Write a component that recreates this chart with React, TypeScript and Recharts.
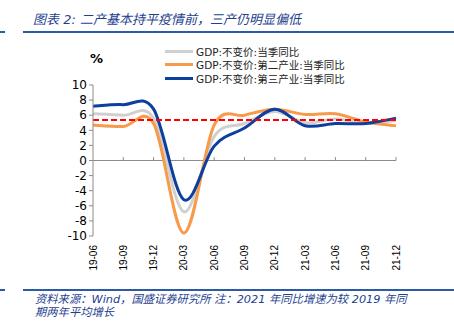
import { LineChart, Line, XAxis, YAxis, ReferenceLine } from 'recharts';

const categories = ['19-06', '19-09', '19-12', '20-03', '20-06', '20-09', '20-12', '21-03', '21-06', '21-09', '21-12'];
const gdpTotal = [6.2, 6.0, 5.6, -6.8, 3.2, 4.9, 6.5, 5.0, 5.5, 4.9, 5.3];
const gdpSecondary = [4.7, 4.5, 4.9, -9.6, 4.7, 6.0, 6.8, 6.1, 6.2, 5.1, 4.6];
const gdpTertiary = [7.2, 7.4, 6.8, -5.2, 1.9, 4.3, 6.8, 4.6, 4.9, 4.9, 5.6];
const preCovidLevel = 5.35;
const yTicks = [-10, -8, -6, -4, -2, 0, 2, 4, 6, 8, 10];

const series = [
  { key: 'total', name: 'GDP:不变价:当季同比', color: '#d0d0d0' },
  { key: 'secondary', name: 'GDP:不变价:第二产业:当季同比', color: '#f79a4a' },
  { key: 'tertiary', name: 'GDP:不变价:第三产业:当季同比', color: '#0d3f9e' },
];

const data = categories.map((c, i) => ({
  date: c,
  total: gdpTotal[i],
  secondary: gdpSecondary[i],
  tertiary: gdpTertiary[i],
}));

const navy = '#1f3f8f';
const cjk = '"DejaVu Sans", "Noto Sans CJK SC", sans-serif';

// Excel-style smoothed line (Catmull-Rom through every point)
const excelSmooth = (context: any) => {
  let pts: number[][] = [];
  return {
    areaStart() {},
    areaEnd() {},
    lineStart() {
      pts = [];
    },
    point(x: number, y: number) {
      pts.push([+x, +y]);
    },
    lineEnd() {
      const n = pts.length;
      if (!n) return;
      context.moveTo(pts[0][0], pts[0][1]);
      for (let i = 0; i < n - 1; i++) {
        const p0 = pts[Math.max(i - 1, 0)];
        const p1 = pts[i];
        const p2 = pts[i + 1];
        const p3 = pts[Math.min(i + 2, n - 1)];
        context.bezierCurveTo(
          p1[0] + (p2[0] - p0[0]) / 6,
          p1[1] + (p2[1] - p0[1]) / 6,
          p2[0] - (p3[0] - p1[0]) / 6,
          p2[1] - (p3[1] - p1[1]) / 6,
          p2[0],
          p2[1]
        );
      }
    },
  };
};

const XTick = ({ x, y, payload }: any) => (
  <text
    x={0}
    y={0}
    transform={`translate(${x},${y + 9}) rotate(-90)`}
    textAnchor="end"
    dy="0.35em"
    fontSize={10}
    fontFamily="'Liberation Sans', sans-serif"
    fill="#000"
  >
    {payload.value}
  </text>
);

export default function App() {
  return (
    <div style={{ position: 'absolute', left: 0, top: 0, width: 454, height: 324, background: '#fff', overflow: 'hidden' }}>
      <div
        style={{
          position: 'absolute',
          left: 33,
          top: 11,
          fontSize: 13,
          fontStyle: 'italic',
          color: navy,
          fontFamily: cjk,
          whiteSpace: 'nowrap',
          lineHeight: '18px',
        }}
      >
        图表 2:  二产基本持平疫情前，三产仍明显偏低
      </div>
      <div style={{ position: 'absolute', left: 0, top: 31, width: 5, height: 2, background: '#2a5aa8' }} />
      <div style={{ position: 'absolute', left: 23, top: 31, width: 431, height: 2, background: '#2a5aa8' }} />

      <div style={{ position: 'absolute', left: 90, top: 51, fontSize: 13, fontWeight: 'bold', fontFamily: cjk }}>%</div>

      <div style={{ position: 'absolute', left: 165, top: 45 }}>
        {series.map((s) => (
          <div key={s.key} style={{ display: 'flex', alignItems: 'center', height: 13.3 }}>
            <div style={{ width: 28, height: 3, background: s.color, marginRight: 3 }} />
            <span style={{ fontSize: 10.5, fontFamily: cjk, color: '#222', whiteSpace: 'nowrap' }}>{s.name}</span>
          </div>
        ))}
      </div>

      <div style={{ position: 'absolute', left: 0, top: 0 }}>
        <LineChart width={454} height={324} data={data} margin={{ top: 85, right: 58, bottom: 48, left: 53 }}>
          <XAxis
            dataKey="date"
            height={40}
            axisLine={false}
            tickLine={false}
            tickSize={0}
            tickMargin={0}
            interval={0}
            tick={<XTick />}
          />
          <YAxis
            width={40}
            domain={[-10, 10]}
            ticks={yTicks}
            interval={0}
            tickSize={4}
            tickMargin={2}
            axisLine={{ stroke: '#8c8c8c' }}
            tickLine={{ stroke: '#8c8c8c' }}
            tick={{ fontSize: 12, fill: '#000', fontFamily: "'DejaVu Sans', sans-serif" }}
          />
          <ReferenceLine y={0} stroke="#8c8c8c" />
          {categories.slice(1).map((c) => (
            <ReferenceLine
              key={c}
              segment={[
                { x: c, y: 0 },
                { x: c, y: 0.45 },
              ]}
              stroke="#8c8c8c"
            />
          ))}
          {series.map((s) => (
            <Line
              key={s.key}
              dataKey={s.key}
              name={s.name}
              type={excelSmooth as any}
              stroke={s.color}
              strokeWidth={3}
              dot={false}
              isAnimationActive={false}
            />
          ))}
          <ReferenceLine y={preCovidLevel} stroke="#ff0000" strokeWidth={2} strokeDasharray="6 3" />
        </LineChart>
      </div>

      <div style={{ position: 'absolute', left: 0, top: 289, width: 5, height: 2, background: '#2a5aa8' }} />
      <div style={{ position: 'absolute', left: 23, top: 289, width: 431, height: 2, background: '#2a5aa8' }} />
      <div
        style={{
          position: 'absolute',
          left: 35,
          top: 293,
          fontSize: 11.3,
          fontStyle: 'italic',
          color: navy,
          fontFamily: cjk,
          lineHeight: '13px',
          whiteSpace: 'nowrap',
        }}
      >
        资料来源：Wind，国盛证券研究所 注：2021 年同比增速为较 2019 年同
        <br />
        期两年平均增长
      </div>
    </div>
  );
}
